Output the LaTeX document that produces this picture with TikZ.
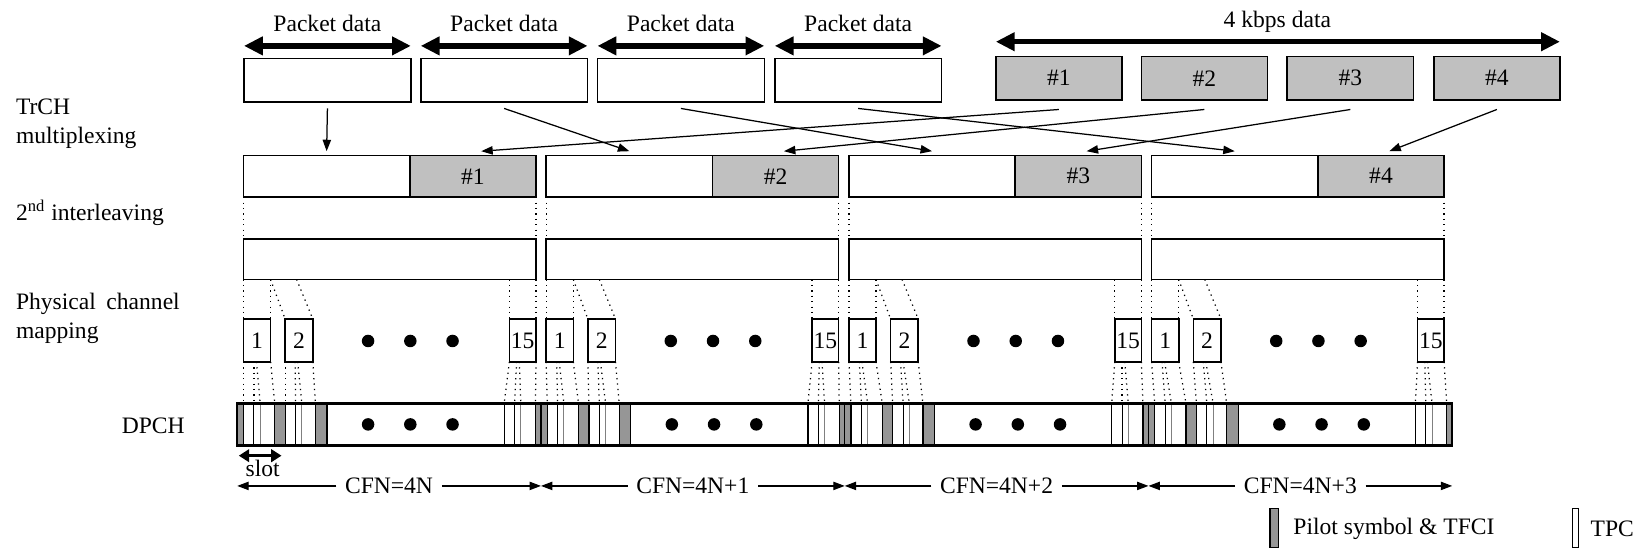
\documentclass[tikz,border=0pt]{standalone}
\usepackage{fontspec}
\setmainfont{Liberation Serif}
\usetikzlibrary{arrows.meta}
\definecolor{lgrey}{HTML}{C0C0C0}
\definecolor{dgrey}{HTML}{969696}
\begin{document}
\begin{tikzpicture}[x=0.5pt,y=-0.5pt,
  font=\fontsize{11.3}{14}\selectfont,
  box/.style={draw, line width=0.75pt, inner sep=0pt, outer sep=0pt, anchor=north west},
  gbox/.style={box, fill=lgrey},
  dotl/.style={dotted, line width=0.6pt},
  bigarrow/.style={line width=2.6pt, {Triangle[length=9pt,width=8.5pt]}-{Triangle[length=9pt,width=8.5pt]}},
  thinarrow/.style={line width=0.6pt, -{Triangle[length=5.5pt,width=4pt]}},
  lab/.style={inner sep=0pt, anchor=west, align=left}]
\useasboundingbox (0,0) rectangle (1568,526.4);

% ---------- top row ----------
\foreach \k/\x in {1/234,2/403.5,3/573,4/743}{
  \node[box, minimum width=80pt, minimum height=21pt] (p\k) at (\x,56) {};
  \draw[bigarrow] ([yshift=6pt]p\k.north west) -- ([yshift=6pt]p\k.north east);
  \node (pt\k) at ([yshift=17pt]p\k.north) {Packet data};
}
\foreach \k/\x in {1/955,2/1094.5,3/1234.5,4/1375}{
  \node[gbox, minimum width=60.5pt, minimum height=21pt] (g\k) at (\x,54) {\#\k};
}
\draw[bigarrow] ([yshift=7pt]g1.north west) -- ([yshift=7pt]g4.north east);
\node (kb) at (1225,21) {4 kbps data};

% ---------- left labels ----------
\node[lab] (l1) at (15,119) {TrCH\\multiplexing};
\node[lab] (l2) at (15,204) {2\textsuperscript{nd} interleaving};
\node[lab] (l3) at (15,305) {\makebox[78.5pt][s]{Physical channel}\\mapping};
\node (l4) at (147,408) {DPCH};

% ---------- DPCH body ----------
\node[box, fill=white, minimum width=582.6pt, minimum height=20pt] (dpch) at (227.5,387) {};

\foreach \fr/\suf in {1/,2/+1,3/+2,4/+3}{
  \pgfmathsetmacro{\F}{227.5+291.3*(\fr-1)}
  \pgfmathsetmacro{\G}{233.5+290.3*(\fr-1)}
  % frame rows
  \node[box, minimum width=79.75pt, minimum height=20pt] (fw\fr) at (\G,149) {};
  \node[gbox, minimum width=60.5pt, minimum height=20pt] (fg\fr) at (\G+159.5,149) {\#\fr};
  \node[box, minimum width=140.25pt, minimum height=19.5pt] (iv\fr) at (\G,229) {};
  \node[box, minimum width=13pt, minimum height=20.5pt] (sa\fr) at (\G,306) {1};
  \node[box, minimum width=13.25pt, minimum height=20.5pt] (sb\fr) at (\G+40,306) {2};
  \node[box, minimum width=12.75pt, minimum height=20.5pt] (sc\fr) at (\G+255,306) {15};
  % arrows from the top
  \draw[thinarrow] ([yshift=-3pt]p\fr.south) -- ([yshift=2pt]fw\fr.north);
  \draw[thinarrow] ([yshift=-4.5pt]g\fr.south) -- ([xshift=4pt,yshift=2pt]fg\fr.north);
  % dotted lines frame -> interleaving
  \draw[dotl] (fw\fr.south west) -- (iv\fr.north west);
  \draw[dotl] (fg\fr.south east) -- (iv\fr.north east);
  % interleaving -> slots
  \draw[dotl] (iv\fr.south west) -- (sa\fr.north west);
  \draw[dotl] ([xshift=13pt]iv\fr.south west) -- (sa\fr.north east);
  \draw[dotl] ([xshift=13pt]iv\fr.south west) -- (sb\fr.north west);
  \draw[dotl] ([xshift=25.5pt]iv\fr.south west) -- (sb\fr.north east);
  \draw[dotl] (sc\fr.north west |- iv\fr.south) -- (sc\fr.north west);
  \draw[dotl] (iv\fr.south east) -- (sc\fr.north east);
  % DPCH contents
  \foreach \a/\b in {0/6,36/46,75/86,286/291.3}
    \draw[fill=dgrey, line width=0.6pt] (\F+\a,387) rectangle (\F+\b,427);
  \foreach \a in {16,56,266}{
    \draw[line width=0.5pt] (\F+\a,387) -- (\F+\a,427);
    \draw[line width=0.5pt, gray] (\F+\a+6,387) -- (\F+\a+6,427);
  }
  \draw[line width=0.6pt] (\F+256,387) -- (\F+256,427);
  \foreach \n/\o in {a/6,b/16,c/22,d/36,e/46,f/56,g/62,h/75,i/256,j/266,k/272,l/286}
    \coordinate (d\fr\n) at (\F+\o,387);
  % slots -> DPCH
  \draw[dotl] (sa\fr.south west) -- (d\fr a);
  \draw[dotl] ([xshift=5pt]sa\fr.south west) -- (d\fr b);
  \draw[dotl] ([xshift=6.25pt]sa\fr.south west) -- (d\fr c);
  \draw[dotl] (sa\fr.south east) -- (d\fr d);
  \draw[dotl] (sb\fr.south west) -- (d\fr e);
  \draw[dotl] ([xshift=4.75pt]sb\fr.south west) -- (d\fr f);
  \draw[dotl] ([xshift=6pt]sb\fr.south west) -- (d\fr g);
  \draw[dotl] (sb\fr.south east) -- (d\fr h);
  \draw[dotl] (sc\fr.south west) -- (d\fr i);
  \draw[dotl] ([xshift=3.5pt]sc\fr.south west) -- (d\fr j);
  \draw[dotl] ([xshift=4.75pt]sc\fr.south west) -- (d\fr k);
  \draw[dotl] (sc\fr.south east) -- (d\fr l);
  % dots
  \foreach \d in {119.5,160,200.5}{
    \fill (\G+\d,327) circle[radius=3pt];
    \fill (\F+6+\d,407) circle[radius=3pt];
  }
  % CFN
  \node[inner xsep=4pt] (cfn\fr) at (\F+145.6,466) {CFN=4N\suf};
  \coordinate (cl\fr) at (\F,466);
  \coordinate (cr\fr) at (\F+291.3,466);
  \draw[thinarrow] (cfn\fr.west) -- (cl\fr);
  \draw[thinarrow] (cfn\fr.east) -- (cr\fr);
}
\draw[line width=1.2pt] (dpch.north west) rectangle (dpch.south east);

% slot arrow
\node (slt) at (252,449.5) {slot};
\coordinate (sl1) at (229,437);
\coordinate (sl2) at (270,437);
\draw[line width=1.3pt, {Triangle[length=5pt,width=6pt]}-{Triangle[length=5pt,width=6pt]}] (sl1) -- (sl2);

% legend
\node[box, fill=dgrey, line width=0.6pt, minimum width=4pt, minimum height=18.5pt] (lg1) at (1218,488) {};
\node[lab] (lt1) at (1240,507) {Pilot symbol \& TFCI};
\node[box, line width=0.5pt, minimum width=3pt, minimum height=18.5pt] (lg2) at (1508,488) {};
\node[lab] (lt2) at (1525,507) {TPC};
\end{tikzpicture}
\end{document}
